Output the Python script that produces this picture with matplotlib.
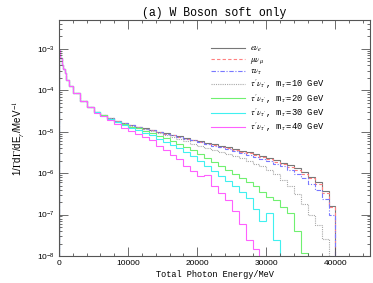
import numpy as np
import matplotlib
matplotlib.use("Agg")
import matplotlib.pyplot as plt
from matplotlib.ticker import MultipleLocator, LogLocator, NullFormatter

# bin edges (MeV): fine bins at low energy, then 1000 MeV bins
edges = np.concatenate([[0, 200, 400, 600, 800, 1000, 1500], np.arange(2000, 41001, 1000)])

# all curves share the first bins (0 - 5000 MeV)
common = [9.5e-4, 6.0e-4, 4.2e-4, 3.2e-4, 2.6e-4, 1.8e-4, 1.3e-4, 8.8e-5, 5.5e-5, 3.9e-5]

# 5000 - 41000 MeV, 1000 MeV bins
e_nu = [3.0e-5, 2.5e-5, 2.1e-5, 1.8e-5, 1.6e-5,
        1.45e-5, 1.32e-5, 1.2e-5, 1.1e-5, 1.0e-5,
        9.2e-6, 8.4e-6, 7.7e-6, 7.0e-6, 6.4e-6,
        5.9e-6, 5.4e-6, 5.0e-6, 4.6e-6, 4.2e-6,
        3.85e-6, 3.5e-6, 3.2e-6, 2.9e-6, 2.6e-6,
        2.3e-6, 2.05e-6, 1.8e-6, 1.55e-6, 1.3e-6,
        1.05e-6, 8.2e-7, 6.0e-7, 3.8e-7, 1.6e-7,
        1e-10]
mu_nu = [3.0e-5, 2.5e-5, 2.1e-5, 1.8e-5, 1.6e-5,
         1.44e-5, 1.31e-5, 1.18e-5, 1.08e-5, 9.8e-6,
         9.0e-6, 8.2e-6, 7.5e-6, 6.8e-6, 6.2e-6,
         5.7e-6, 5.2e-6, 4.8e-6, 4.4e-6, 4.0e-6,
         3.65e-6, 3.3e-6, 3.0e-6, 2.7e-6, 2.4e-6,
         2.15e-6, 1.9e-6, 1.65e-6, 1.42e-6, 1.2e-6,
         9.6e-7, 7.5e-7, 5.4e-7, 3.4e-7, 1.5e-7,
         1e-10]
tau_nu = [3.0e-5, 2.5e-5, 2.1e-5, 1.8e-5, 1.6e-5,
          1.43e-5, 1.3e-5, 1.18e-5, 1.08e-5, 9.8e-6,
          9.0e-6, 8.2e-6, 7.5e-6, 6.8e-6, 6.2e-6,
          5.65e-6, 5.1e-6, 4.65e-6, 4.2e-6, 3.8e-6,
          3.45e-6, 3.1e-6, 2.8e-6, 2.5e-6, 2.2e-6,
          1.95e-6, 1.7e-6, 1.45e-6, 1.2e-6, 9.8e-7,
          7.6e-7, 5.6e-7, 3.9e-7, 2.4e-7, 1.0e-7,
          1e-10]
tp10 = [3.0e-5, 2.5e-5, 2.1e-5, 1.8e-5, 1.58e-5,
        1.4e-5, 1.27e-5, 1.15e-5, 1.04e-5, 9.4e-6,
        8.4e-6, 7.5e-6, 6.7e-6, 5.9e-6, 5.2e-6,
        4.6e-6, 4.05e-6, 3.6e-6, 3.2e-6, 2.9e-6,
        2.6e-6, 2.3e-6, 2.0e-6, 1.7e-6, 1.45e-6,
        1.2e-6, 9.5e-7, 7.0e-7, 4.8e-7, 3.1e-7,
        1.8e-7, 1.0e-7, 5.5e-8, 2.6e-8, 1e-10,
        1e-10]
tp20 = [3.0e-5, 2.5e-5, 2.05e-5, 1.75e-5, 1.52e-5,
        1.33e-5, 1.2e-5, 1.07e-5, 9.5e-6, 8.0e-6,
        7.0e-6, 6.0e-6, 5.2e-6, 4.4e-6, 3.6e-6,
        2.9e-6, 2.3e-6, 1.85e-6, 1.5e-6, 1.2e-6,
        9.5e-7, 7.8e-7, 6.2e-7, 4.8e-7, 3.6e-7,
        2.6e-7, 2.2e-7, 1.5e-7, 1.1e-7, 4e-8,
        1.2e-8, 1e-10, 1e-10, 1e-10, 1e-10,
        1e-10]
tp30 = [2.95e-5, 2.45e-5, 2.0e-5, 1.7e-5, 1.45e-5,
        1.25e-5, 1.1e-5, 9.5e-6, 8.2e-6, 6.6e-6,
        5.6e-6, 4.7e-6, 4.0e-6, 3.3e-6, 2.6e-6,
        2.0e-6, 1.5e-6, 1.15e-6, 8.5e-7, 6.5e-7,
        5.0e-7, 3.6e-7, 2.5e-7, 1.4e-7, 7e-8,
        1.1e-7, 2.5e-8, 1e-10, 1e-10, 1e-10,
        1e-10, 1e-10, 1e-10, 1e-10, 1e-10,
        1e-10]
tp40 = [2.9e-5, 2.35e-5, 1.9e-5, 1.55e-5, 1.25e-5,
        1.05e-5, 9.0e-6, 7.6e-6, 6.2e-6, 4.6e-6,
        3.6e-6, 2.7e-6, 2.2e-6, 1.5e-6, 1.1e-6,
        8.5e-7, 9.0e-7, 5.0e-7, 3.3e-7, 2.3e-7,
        1.2e-7, 6e-8, 2.5e-8, 1.5e-8, 1e-10,
        1e-10, 1e-10, 1e-10, 1e-10, 1e-10,
        1e-10, 1e-10, 1e-10, 1e-10, 1e-10,
        1e-10]

labels = [r'$e\nu_e$', r'$\mu\nu_\mu$', r'$\tau\nu_\tau$',
          r"$\tau'\nu_{\tau'}$, m$_{\tau'}$=10 GeV",
          r"$\tau'\nu_{\tau'}$, m$_{\tau'}$=20 GeV",
          r"$\tau'\nu_{\tau'}$, m$_{\tau'}$=30 GeV",
          r"$\tau'\nu_{\tau'}$, m$_{\tau'}$=40 GeV"]
series = [e_nu, mu_nu, tau_nu, tp10, tp20, tp30, tp40]
colors = ['#777777', '#ff8080', '#7878ff', '#a8a8a8', '#70f070', '#40f0f0', '#ff60ff']
styles = ['-', (0, (3, 2)), (0, (4, 1.5, 1, 1.5)), (0, (1, 1)), '-', '-', '-']

plt.rcParams['font.family'] = 'Liberation Mono'
plt.rcParams['mathtext.fontset'] = 'stix'

fig = plt.figure(figsize=(3.73, 2.83), dpi=100)
ax = fig.add_axes([59/373, 1 - 256/283, (370 - 59)/373, (256 - 20)/283])

for vals, c, ls, lab in zip(series, colors, styles, labels):
    ax.stairs(common + vals, edges, color=c, linestyle=ls, linewidth=0.8, label=lab)

ax.set_yscale('log')
ax.set_xlim(0, 45000)
ax.set_ylim(1e-8, 5e-3)
ax.xaxis.set_major_locator(MultipleLocator(10000))
ax.xaxis.set_minor_locator(MultipleLocator(2000))
ax.yaxis.set_major_locator(LogLocator(base=10, numticks=10))
ax.yaxis.set_minor_locator(LogLocator(base=10, subs=np.arange(2, 10), numticks=10))
ax.yaxis.set_minor_formatter(NullFormatter())
ax.tick_params(which='both', direction='in', top=True, right=True, color='#555555', width=0.6)
ax.tick_params(which='major', length=6.5, labelsize=6, pad=3)
ax.tick_params(which='minor', length=2.5)
for lab in ax.get_xticklabels() + ax.get_yticklabels():
    lab.set_family('Liberation Sans')
for s in ax.spines.values():
    s.set_color('#555555')
    s.set_linewidth(0.8)

ax.set_title('(a) W Boson soft only', fontsize=8.3, pad=3)
ax.set_xlabel('Total Photon Energy/MeV', fontsize=6.2, labelpad=2)
ax.set_ylabel(r'1/$\Gamma$d$\Gamma$/dE$_\gamma$/MeV$^{-1}$', fontsize=7, labelpad=8,
              family='Liberation Sans')

ax.legend(loc='upper left', bbox_to_anchor=(0.49, 0.90), frameon=False, fontsize=6.3,
          borderpad=0, borderaxespad=0, handlelength=3.8, handletextpad=0.6,
          labelspacing=0.1)

fig.savefig('out.png', dpi=100)
